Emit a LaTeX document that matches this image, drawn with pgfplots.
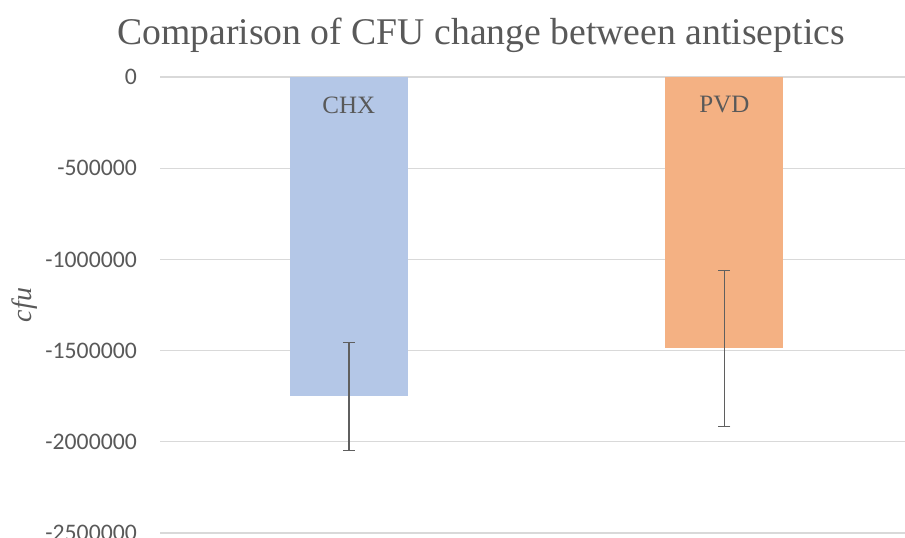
\documentclass[border=0pt]{standalone}
\usepackage{pgfplots}
\pgfplotsset{compat=1.18}
\usepackage{fontspec}
\setmainfont{Liberation Serif}
\newfontfamily\calibri{Carlito}
\definecolor{chx}{HTML}{B4C7E7}
\definecolor{pvd}{HTML}{F4B183}
\definecolor{txtgray}{HTML}{595959}
\definecolor{gridgray}{HTML}{D9D9D9}
\definecolor{errgray}{HTML}{5F5F5F}
\begin{document}
\begin{tikzpicture}
\useasboundingbox (0,0) rectangle (905pt,538pt);
\clip (0,0) rectangle (905pt,538pt);
\node[anchor=base, text=txtgray, inner sep=0pt] at (481pt,493pt)
  {\fontsize{37.7pt}{42pt}\selectfont Comparison of CFU change between antiseptics};
\begin{axis}[
  at={(160pt,5pt)}, anchor=south west,
  scale only axis, width=745pt, height=456pt,
  xmin=-0.503, xmax=1.481,
  ymin=-2500000, ymax=0,
  axis line style={draw=none},
  xtick=\empty,
  scaled y ticks=false,
  ytick={-2500000,-2000000,-1500000,-1000000,-500000,0},
  yticklabels={-2500000,-2000000,-1500000,-1000000,-500000,0},
  major tick length=0pt,
  ymajorgrids,
  grid style={color=gridgray, line width=1.2pt},
  yticklabel style={font=\calibri\fontsize{23.7pt}{26pt}\selectfont, text=txtgray, anchor=east, inner sep=0pt, xshift=-23pt},
  ylabel={\itshape cfu},
  ylabel style={font=\fontsize{28pt}{32pt}\selectfont, text=txtgray, at={(axis description cs:-0.182,0.5)}, anchor=center, rotate=0},
  clip=false,
]
\addplot[ybar, bar shift=0pt, bar width=0.314, fill=chx, draw=none,
  error bars/.cd, y dir=both, y explicit,
  error bar style={line width=1.3pt, color=errgray},
  error mark options={rotate=90, mark size=6pt, line width=1.3pt, color=errgray}]
  coordinates {(0,-1750000) +- (0,296000)};
\addplot[ybar, bar shift=0pt, bar width=0.314, fill=pvd, draw=none,
  error bars/.cd, y dir=both, y explicit,
  error bar style={line width=1.3pt, color=errgray},
  error mark options={rotate=90, mark size=6pt, line width=1.3pt, color=errgray}]
  coordinates {(1,-1487000) +- (0,428000)};
\node[text=txtgray, font=\fontsize{25pt}{28pt}\selectfont] at (axis cs:0,-153000) {CHX};
\node[text=txtgray, font=\fontsize{25pt}{28pt}\selectfont] at (axis cs:1,-153000) {PVD};
\end{axis}
\end{tikzpicture}
\end{document}
